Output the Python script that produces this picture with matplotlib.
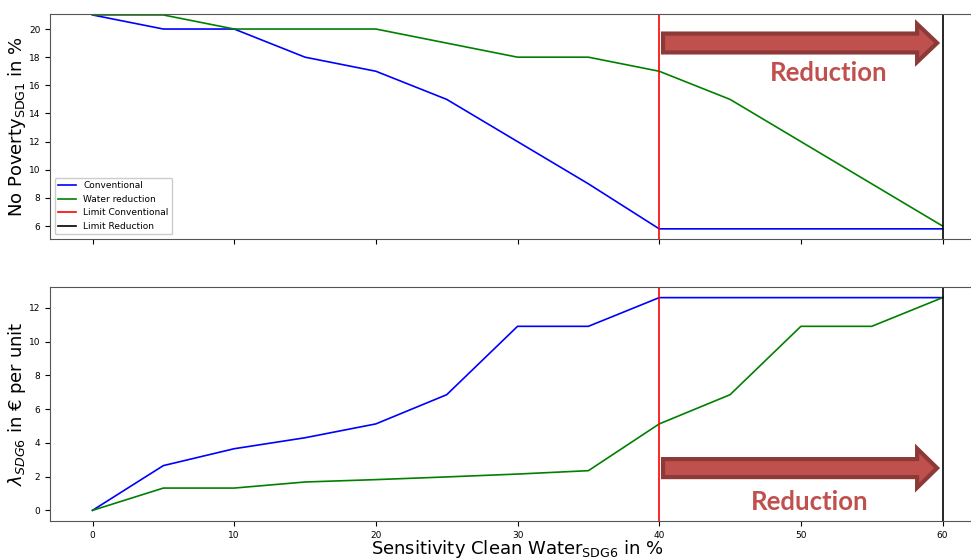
import matplotlib.pyplot as plt
from matplotlib.patches import FancyArrow

# Sensitivity Clean Water SDG6 in %
sensitivity = [0, 5, 10, 15, 20, 25, 30, 35, 40, 45, 50, 55, 60]

# No Poverty SDG1 in %
poverty_conv = [21, 20, 20, 18, 17, 15, 12, 9, 5.8, 5.8, 5.8, 5.8, 5.8]
poverty_water = [21, 21, 20, 20, 20, 19, 18, 18, 17, 15, 12, 9, 6]

# lambda SDG6 in EUR per unit
lambda_conv = [0, 2.65, 3.65, 4.3, 5.12, 6.85, 10.9, 10.9, 12.6, 12.6, 12.6, 12.6, 12.6]
lambda_water = [0, 1.32, 1.32, 1.68, 1.82, 1.98, 2.15, 2.35, 5.12, 6.85, 10.9, 10.9, 12.6]

limit_conventional = 40
limit_reduction = 60

arrow_face = '#c0504d'
arrow_edge = '#8c3a37'

fig = plt.figure(figsize=(9.71, 5.59), dpi=100)
ax1 = fig.add_axes([0.0515, 0.5725, 0.963, 0.4025])
ax2 = fig.add_axes([0.0515, 0.068, 0.963, 0.4186], sharex=ax1)

# oberes Diagramm
ax1.plot(sensitivity, poverty_conv, color='blue', lw=1.2, label='Conventional')
ax1.plot(sensitivity, poverty_water, color='green', lw=1.2, label='Water reduction')
ax1.axvline(limit_conventional, color='red', lw=1.2, label='Limit Conventional')
ax1.axvline(limit_reduction, color='black', lw=1.2, label='Limit Reduction')
ax1.set_xlim(-3, 63)
ax1.set_ylim(5.08, 21.07)
ax1.set_yticks(range(6, 21, 2))
ax1.tick_params(labelbottom=False, labelsize=6.5)
ax1.set_ylabel(r'No Poverty$_{\mathrm{SDG1}}$ in %', fontsize=13)
ax1.legend(loc='lower left', fontsize=6.5, framealpha=1)

# unteres Diagramm
ax2.plot(sensitivity, lambda_conv, color='blue', lw=1.2)
ax2.plot(sensitivity, lambda_water, color='green', lw=1.2)
ax2.axvline(limit_conventional, color='red', lw=1.2)
ax2.axvline(limit_reduction, color='black', lw=1.2)
ax2.set_xticks(range(0, 61, 10))
ax2.tick_params(labelsize=6.5)
ax2.set_ylabel(r'$\lambda_{SDG6}$ in € per unit', fontsize=13)
ax2.set_xlabel(r'Sensitivity Clean Water$_{\mathrm{SDG6}}$ in %', fontsize=13, labelpad=-1)

for ax in (ax1, ax2):
    ax.yaxis.set_label_coords(-0.0235, 0.5)
    for sp in ax.spines.values():
        sp.set_color('#555555')

# Pfeile und Text
for ax, ya, bw, hw, tx, ty in [(ax1, 0.871, 0.084, 0.169, 0.833, 0.738),
                               (ax2, 0.226, 0.077, 0.167, 0.812, 0.081)]:
    arr = FancyArrow(0.6556, ya, 0.2717, 0, width=bw, head_width=hw, head_length=0.0214,
                     length_includes_head=False, transform=ax.transAxes,
                     facecolor=arrow_face, edgecolor=arrow_edge, lw=3, zorder=5)
    ax.add_patch(arr)
    ax.text(tx, ty, 'Reduction', transform=ax.transAxes, ha='center', va='center',
            fontsize=18.5, fontweight='bold', color=arrow_face, family='Lato')

fig.savefig('out.png', dpi=100)
